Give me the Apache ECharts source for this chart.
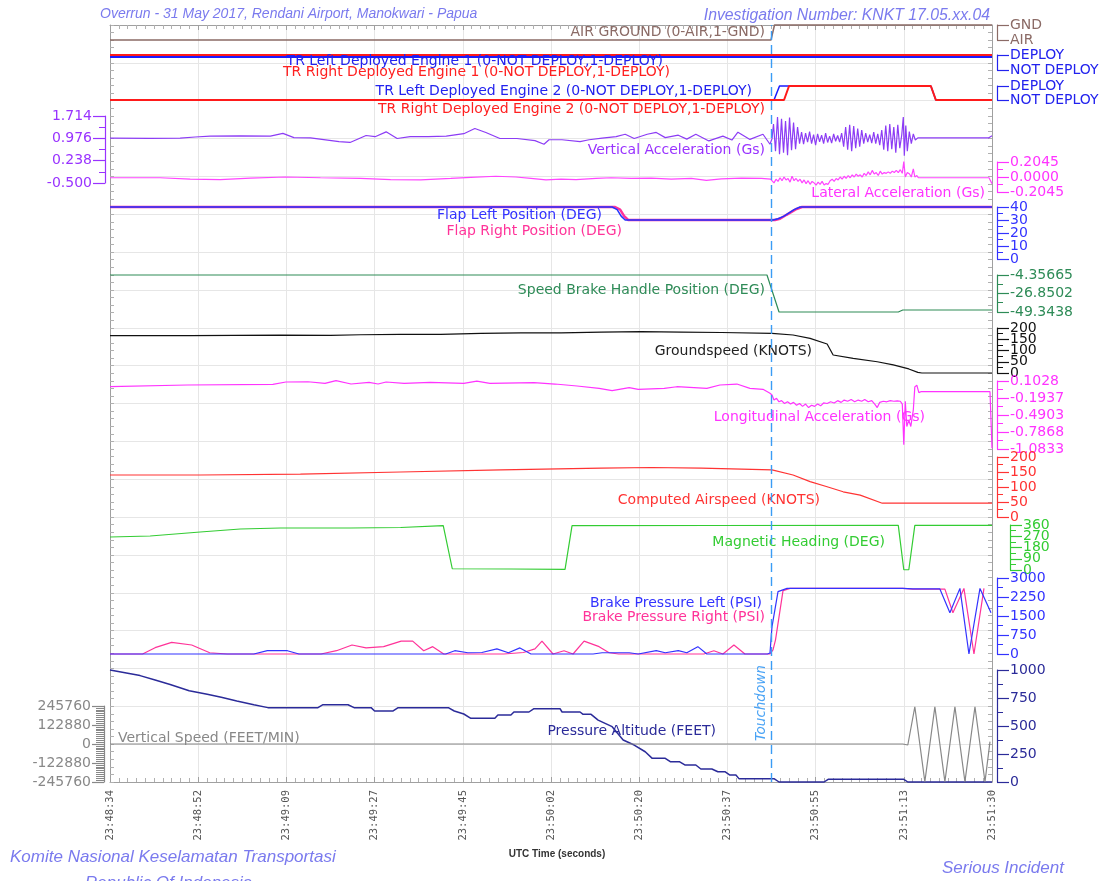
<!DOCTYPE html>
<html>
<head>
<meta charset="utf-8">
<script src="https://cdn.jsdelivr.net/npm/echarts@6/dist/echarts.min.js"></script>
<style>
html,body{margin:0;padding:0;background:#fff;}
#chart{width:1108px;height:881px;}
</style>
</head>
<body>
<div id="chart"></div>
<script>
// ---------------- DATA ----------------
const X_TICK_LABELS = ['23:48:34','23:48:52','23:49:09','23:49:27','23:49:45','23:50:02','23:50:20','23:50:37','23:50:55','23:51:13','23:51:30'];
const X_SPAN = 176;          // seconds shown
const X_TICK_STEP = 17.6;    // seconds between labelled ticks
const TOUCHDOWN_T = 131.9;   // seconds after 23:48:34

const AG_TICKS = [0, 1];            const AG_LABELS = ['AIR', 'GND'];
const TR_TICKS = [0, 1];            const TR_LABELS = ['NOT DEPLOY', 'DEPLOY'];
const VA_TICKS = [-0.5, 0.238, 0.976, 1.714];   const VA_LABELS = ['-0.500', '0.238', '0.976', '1.714'];
const LAT_TICKS = [-0.2045, 0, 0.2045];         const LAT_LABELS = ['-0.2045', '0.0000', '0.2045'];
const FLAP_TICKS = [0, 10, 20, 30, 40];         const FLAP_LABELS = ['0', '10', '20', '30', '40'];
const SB_TICKS = [-49.3438, -26.8502, -4.35665]; const SB_LABELS = ['-49.3438', '-26.8502', '-4.35665'];
const GS_TICKS = [0, 50, 100, 150, 200];        const GS_LABELS = ['0', '50', '100', '150', '200'];
const LON_TICKS = [-1.0833, -0.7868, -0.4903, -0.1937, 0.1028];
const LON_LABELS = ['-1.0833', '-0.7868', '-0.4903', '-0.1937', '0.1028'];
const CAS_TICKS = [0, 50, 100, 150, 200];       const CAS_LABELS = ['0', '50', '100', '150', '200'];
const HDG_TICKS = [0, 90, 180, 270, 360];       const HDG_LABELS = ['0', '90', '180', '270', '360'];
const BRK_TICKS = [0, 750, 1500, 2250, 3000];   const BRK_LABELS = ['0', '750', '1500', '2250', '3000'];
const ALT_TICKS = [0, 250, 500, 750, 1000];     const ALT_LABELS = ['0', '250', '500', '750', '1000'];
const VS_TICKS = [-245760, -122880, 0, 122880, 245760];
const VS_LABELS = ['-245760', '-122880', '0', '122880', '245760'];

// [seconds, value]
const airGround = [[0,0],[131.9,0],[132.6,1],[176,1]];
const trLeftEng1 = [[0,1],[176,1]];
const trRightEng1 = [[0,1],[176,1]];
const trLeftEng2 = [[0,0],[132.5,0],[133.6,1],[163.8,1],[164.8,0],[176,0]];
const trRightEng2 = [[0,0],[134.5,0],[135.5,1],[163.8,1],[164.8,0],[176,0]];

const vertAccel = [[0,0.98],[8,0.975],[14,0.985],[17,1.02],[20,1.05],[26,1.06],[32,1.05],[34.5,1.14],[36.7,1.0],[40,0.99],[45.7,0.87],[47.9,0.84],[51.1,1.07],[52.9,1.03],[55.1,1.19],[57.3,0.97],[59.9,1.03],[63.5,1.03],[67.1,1.05],[70.6,1.13],[72.8,1.3],[75,1.17],[77.8,0.97],[81.2,0.97],[84.8,0.9],[86.6,0.78],[87.6,0.93],[90.2,0.93],[93.8,0.87],[95.6,0.93],[98.2,0.98],[101,1.03],[102.8,1.11],[104.6,0.97],[107.2,1.11],[109,1.17],[110.8,1.0],[113.4,1.08],[115.1,0.95],[116.9,1.11],[119.5,0.89],[122.3,1.05],[124.1,0.92],[125.3,1.18],[127.7,0.94],[130.3,1.11],[131.7,0.78],
  [132.1,0.96],[132.4,1.45],[132.8,0.55],[133.2,1.68],[133.6,0.45],[134.0,1.62],[134.4,0.5],[134.8,1.55],[135.2,0.42],[135.6,1.66],[136.0,0.58],[136.4,1.5],[136.8,0.62],[137.2,1.35],[137.6,0.8],[138.0,1.18],[138.4,0.78],[138.8,1.15],[139.2,0.85],[139.6,1.2],[140.0,0.8],[140.4,1.1],[140.8,0.75],[141.2,1.12],[141.6,0.86],[142.0,1.08],[142.4,0.8],[142.8,1.15],[143.2,0.84],[143.6,1.05],[144.0,0.82],[144.4,1.12],[144.8,0.88],[145.2,1.07],[145.6,0.85],[146.0,1.15],[146.4,0.7],[146.8,1.35],[147.2,0.6],[147.6,1.42],[148.0,0.55],[148.4,1.38],[148.8,0.65],[149.2,1.3],[149.6,0.7],[150.0,1.25],[150.4,0.8],[150.8,1.15],[151.2,0.85],[151.6,1.1],[152.0,0.82],[152.4,1.18],[152.8,0.8],[153.2,1.12],[153.6,0.75],[154.0,1.25],[154.4,0.6],[154.8,1.4],[155.2,0.55],[155.6,1.45],[156.0,0.62],[156.4,1.35],[156.8,0.5],[157.2,1.42],[157.6,0.65],[158.0,1.1],[158.3,1.68],[158.5,0.4],[158.8,1.4],[159.1,0.55],[159.5,1.2],[159.9,0.8],[160.3,1.12],[160.7,0.92],[161.2,0.99],[175.3,0.99],[176,1.06]];

const latAccel = [[0,-0.01],[10,-0.01],[16,-0.03],[22,-0.035],[28,-0.015],[35,0.0],[42,-0.01],[50,-0.02],[56,-0.035],[62,-0.04],[68,-0.02],[72,-0.005],[77,0.01],[81,0.0],[84,-0.02],[87,-0.04],[90,-0.03],[93,-0.035],[97,-0.02],[100,-0.01],[104,-0.02],[108,-0.015],[112,-0.03],[116,-0.02],[119,-0.045],[122,-0.025],[126,-0.015],[130,-0.02],[131.8,-0.03],
  [132.1,-0.02],[132.5,-0.08],[132.9,-0.03],[133.3,-0.06],[133.7,-0.01],[134.1,-0.05],[134.5,0.0],[134.9,-0.04],[135.3,-0.02],[135.7,-0.07],[136.1,0.01],[136.5,-0.05],[136.9,-0.02],[137.3,-0.06],[137.7,-0.03],[138.1,-0.08],[138.5,-0.04],[138.9,-0.09],[139.3,-0.05],[139.7,-0.1],[140.1,-0.06],[140.5,-0.08],[140.9,-0.11],[141.3,-0.07],[141.7,-0.1],[142.1,-0.06],[142.5,-0.11],[142.9,-0.09],[143.3,-0.1],[143.7,-0.05],[144.1,-0.03],[144.5,-0.06],[144.9,-0.02],[145.3,-0.04],[145.7,0.0],[146.1,-0.03],[146.5,0.01],[146.9,-0.02],[147.3,0.02],[147.7,-0.01],[148.1,0.03],[148.5,0.0],[148.9,0.04],[149.3,0.01],[149.7,0.03],[150.1,0.0],[150.5,0.05],[150.9,0.02],[151.3,0.07],[151.7,0.03],[152.1,0.09],[152.5,0.04],[152.9,0.06],[153.3,0.02],[153.7,0.08],[154.1,0.04],[154.5,0.06],[154.9,0.05],[155.3,0.07],[155.7,0.05],[156.1,0.08],[156.5,0.06],[156.9,0.09],[157.3,0.06],[157.7,0.1],[158.1,0.05],[158.4,0.21],[158.7,0.0],[159.1,0.06],[159.5,0.045],[159.9,0.0],[160.3,0.11],[160.6,0.0],[161.0,0.02],[161.3,-0.01],[175.4,-0.01],[176,-0.09]];

const flapLeft = [[0,40],[100.2,40],[101.2,38],[102.0,33],[102.8,30],[132.3,30],[133.3,31],[134.5,33],[136.5,38],[137.7,40],[176,40]];
const flapRight = [[0,40],[100.8,40],[101.8,38],[102.6,33],[103.4,30],[132.7,30],[133.7,31],[135.0,34],[137.0,38.5],[138.1,40],[176,40]];

const speedBrake = [[0,-4.35665],[131.1,-4.35665],[133.5,-49.3438],[157.3,-49.3438],[158.2,-46.9],[176,-46.9]];

const groundSpeed = [[0,166],[16,166],[34,168],[44,167],[50,170],[58,172],[66,172],[74,176],[82,178],[90,178],[98,182],[106,184],[114,182],[122,180],[132.1,176],[136.3,169],[139.7,154],[143.1,129],[144.3,80],[148.3,65],[153.1,50],[156.3,36],[159.4,18],[161.2,3],[162,0],[176,0]];

const longAccel = [[0,0.003],[15.4,0.033],[32.5,0.045],[35.1,0.085],[39.5,0.09],[42.9,0.062],[45.1,0.108],[48.1,0.05],[51.7,0.08],[53.5,0.05],[55.1,0.085],[58.7,0.062],[63.9,0.08],[70.6,0.062],[73.2,0.1],[75.8,0.062],[84.6,0.074],[88.8,0.05],[93.2,0.016],[97.6,-0.025],[100.2,-0.066],[103.6,-0.014],[105.4,-0.042],[110.6,-0.025],[113.1,0.003],[119.1,-0.025],[121.7,0.033],[125.1,0.05],[127.7,-0.025],[130.3,-0.042],[131.7,-0.112],
  [132.1,-0.141],[132.5,-0.23],[133.0,-0.2],[133.5,-0.26],[134.0,-0.24],[134.6,-0.29],[135.2,-0.26],[135.8,-0.3],[136.4,-0.27],[137.0,-0.32],[137.6,-0.29],[138.2,-0.34],[138.8,-0.3],[139.4,-0.36],[140.0,-0.32],[140.6,-0.34],[141.2,-0.3],[141.8,-0.33],[142.4,-0.28],[143.1,-0.29],[143.8,-0.26],[144.5,-0.28],[145.2,-0.24],[145.9,-0.27],[146.5,-0.23],[147.2,-0.25],[147.9,-0.22],[148.6,-0.26],[149.3,-0.23],[150.0,-0.25],[150.6,-0.22],[151.3,-0.26],[152.0,-0.24],[152.6,-0.3],[153.1,-0.36],[153.6,-0.27],[154.3,-0.25],[155.0,-0.26],[155.7,-0.24],[156.4,-0.25],[157.1,-0.245],[157.7,-0.25],[158.1,-0.3],[158.4,-1.01],[158.7,-0.25],[159.0,-0.69],[159.4,-0.58],[159.8,-0.69],[160.3,-0.4],[160.6,0.0],[161.0,0.03],[161.4,-0.1],[161.8,-0.084],[175.6,-0.084],[176,-1.07]];

const airspeed = [[0,140],[18,140],[38,143],[58,150],[78,157],[98,163],[108,165],[118,163],[132.1,157],[136.3,140],[139.7,118],[143.1,101],[146.3,84],[149.7,73],[154.1,46],[176,46]];

const heading = [[0,264],[8,272],[18,304],[26,328],[34,336],[48,336],[58,340],[66.5,355],[68.3,10],[80,8],[90.8,5],[92.2,355],[120,356],[157.3,357],[158.4,2],[159.4,2],[160.6,357],[176,357]];

const brakeLeft = [[0,0],[28.7,0],[31.4,130],[35.4,130],[37.7,0],[67,0],[68.8,130],[71.4,50],[74.2,60],[77.2,200],[79.5,50],[81.8,240],[84,0],[96.4,0],[98.2,50],[103.6,50],[105.4,0],[109,130],[110.8,50],[113.4,130],[115.1,50],[117.3,290],[119.1,0],[131.2,0],[131.7,40],[132.1,1080],[133.3,2460],[135.1,2590],[158.2,2590],[160.2,2570],[165.6,2570],[167.6,1630],[169.6,2590],[171.4,0],[173.6,2590],[175.8,1630]];
const brakeRight = [[0,0],[6.5,0],[9,250],[12.3,460],[16.3,355],[19.9,50],[23.4,0],[42.1,0],[45.2,130],[48.3,355],[51.1,240],[54.6,290],[58.1,510],[60.4,510],[62.6,130],[64.4,290],[66.6,0],[78.6,0],[82.5,60],[84.8,200],[86.2,510],[88.4,0],[90.6,130],[92.4,0],[94.6,510],[97.6,290],[99.6,50],[101.5,0],[118.5,0],[120.5,130],[122.3,0],[124.5,355],[126.7,0],[131.7,0],[132.3,160],[132.8,560],[134.3,2500],[135.7,2590],[158.2,2590],[160.2,2560],[166.6,2560],[168.2,1630],[170.4,2590],[172.4,0],[174.4,2590]];

const pressAlt = [[0,1000],[3,975],[6,950],[9,910],[12,870],[15.8,815],[19.4,783],[22.2,756],[25.3,723],[28.7,690],[31.5,664],[41.5,664],[42.5,690],[47.5,690],[48.7,664],[52.1,664],[52.8,634],[56.5,634],[57.5,664],[67.5,664],[68.7,634],[70.6,607],[72,569],[76.8,569],[77.4,598],[80,598],[80.6,625],[83.6,625],[84.6,655],[89.8,655],[90.2,625],[93.8,625],[94.4,604],[96,604],[97.4,553],[100.2,494],[102.4,375],[104.6,330],[106.8,270],[108.2,211],[110.8,211],[111.8,181],[113.6,181],[114.7,152],[116.9,152],[117.9,116],[120.1,116],[121.3,92],[122.7,92],[123.7,62],[124.9,62],[125.5,30],[132.5,30],[133.5,0],[142.5,0],[143.3,24],[158.4,24],[159.2,0],[176,0]];

const vertSpeed = [[0,0],[158.2,0],[159.2,-6500],[160.6,241000],[162.6,-244000],[164.6,241000],[166.6,-244000],[168.6,241000],[170.6,-244000],[172.6,241000],[174.6,-244000],[175.6,15000]];

// ---------------- LAYOUT / STYLE ----------------
const PLOT_LEFT = 110, PLOT_RIGHT_GAP = 116, PLOT_TOP = 25, PLOT_BOTTOM = 782;
const FONT = "'DejaVu Sans', Verdana, sans-serif";
const LABEL_FONT_SIZE = 14;

const PANELS = [
  {id:'ag',   top:25,  bottom:40,  side:'right', offset:5,  color:'#8b6b66', ticks:AG_TICKS,   labels:AG_LABELS,   div:1},
  {id:'tr1',  top:55,  bottom:70,  side:'right', offset:5,  color:'#2222ee', ticks:TR_TICKS,   labels:TR_LABELS,   div:1},
  {id:'tr2',  top:86,  bottom:100, side:'right', offset:5,  color:'#2222ee', ticks:TR_TICKS,   labels:TR_LABELS,   div:1},
  {id:'va',   top:116, bottom:183, side:'left',  offset:5,  color:'#9933ff', ticks:VA_TICKS,   labels:VA_LABELS,   div:2},
  {id:'lat',  top:162, bottom:192, side:'right', offset:5,  color:'#ff33ff', ticks:LAT_TICKS,  labels:LAT_LABELS,  div:2},
  {id:'flap', top:207, bottom:259, side:'right', offset:5,  color:'#3333ff', ticks:FLAP_TICKS, labels:FLAP_LABELS, div:2},
  {id:'sb',   top:275, bottom:312, side:'right', offset:5,  color:'#2e8b57', ticks:SB_TICKS,   labels:SB_LABELS,   div:2},
  {id:'gs',   top:328, bottom:373, side:'right', offset:5,  color:'#111111', ticks:GS_TICKS,   labels:GS_LABELS,   div:2},
  {id:'lon',  top:381, bottom:449, side:'right', offset:5,  color:'#ff33ff', ticks:LON_TICKS,  labels:LON_LABELS,  div:2},
  {id:'cas',  top:457, bottom:517, side:'right', offset:5,  color:'#ff3333', ticks:CAS_TICKS,  labels:CAS_LABELS,  div:2},
  {id:'hdg',  top:525, bottom:570, side:'right', offset:18, color:'#33cc33', ticks:HDG_TICKS,  labels:HDG_LABELS,  div:2},
  {id:'brk',  top:578, bottom:654, side:'right', offset:5,  color:'#3333ff', ticks:BRK_TICKS,  labels:BRK_LABELS,  div:2},
  {id:'alt',  top:670, bottom:782, side:'right', offset:5,  color:'#2b2b99', ticks:ALT_TICKS,  labels:ALT_LABELS,  div:2},
  {id:'vs',   top:706, bottom:782, side:'left',  offset:6,  color:'#888888', ticks:VS_TICKS,   labels:VS_LABELS,   div:10}
];

const SERIES = [
  {panel:'ag',   data:airGround,   color:'#8b6b66', width:1.5},
  {panel:'tr1',  data:trLeftEng1,  color:'#1a1aff', width:2, shadowY:2},
  {panel:'tr1',  data:trRightEng1, color:'#ff1a1a', width:2},
  {panel:'tr2',  data:trLeftEng2,  color:'#1a1aff', width:1.5},
  {panel:'tr2',  data:trRightEng2, color:'#ff1a1a', width:2},
  {panel:'va',   data:vertAccel,   color:'#8c3cf5', width:1.2},
  {panel:'lat',  data:latAccel,    color:'#ff44ff', width:1.2},
  {panel:'flap', data:flapRight,   color:'#ff3399', width:2.5},
  {panel:'flap', data:flapLeft,    color:'#2233ff', width:1.5},
  {panel:'sb',   data:speedBrake,  color:'#2e8b57', width:1.2},
  {panel:'gs',   data:groundSpeed, color:'#111111', width:1.2},
  {panel:'lon',  data:longAccel,   color:'#ff33ff', width:1.2},
  {panel:'cas',  data:airspeed,    color:'#ff3333', width:1.2},
  {panel:'hdg',  data:heading,     color:'#33cc33', width:1.2},
  {panel:'brk',  data:brakeRight,  color:'#ff3399', width:1.2},
  {panel:'brk',  data:brakeLeft,   color:'#3333ff', width:1.2},
  {panel:'alt',  data:pressAlt,    color:'#2b2b99', width:1.5},
  {panel:'vs',   data:vertSpeed,   color:'#888888', width:1.2}
];

// series name labels: [text, x, y, color, align]
const NAME_LABELS = [
  ['AIR GROUND (0-AIR,1-GND)', 765, 32, '#8b6b66', 'right'],
  ['TR Left Deployed Engine 1 (0-NOT DEPLOY,1-DEPLOY)', 663, 61, '#2222ee', 'right'],
  ['TR Right Deployed Engine 1 (0-NOT DEPLOY,1-DEPLOY)', 670, 72, '#ff2020', 'right'],
  ['TR Left Deployed Engine 2 (0-NOT DEPLOY,1-DEPLOY)', 752, 91, '#2222ee', 'right'],
  ['TR Right Deployed Engine 2 (0-NOT DEPLOY,1-DEPLOY)', 765, 109, '#ff2020', 'right'],
  ['Vertical Acceleration (Gs)', 765, 150, '#9933ff', 'right'],
  ['Lateral Acceleration (Gs)', 985, 193, '#ff33ff', 'right'],
  ['Flap Left Position (DEG)', 602, 215, '#3333ff', 'right'],
  ['Flap Right Position (DEG)', 622, 231, '#ff3399', 'right'],
  ['Speed Brake Handle Position (DEG)', 765, 290, '#2e8b57', 'right'],
  ['Groundspeed (KNOTS)', 812, 351, '#222222', 'right'],
  ['Longitudinal Acceleration (Gs)', 925, 417, '#ff33ff', 'right'],
  ['Computed Airspeed (KNOTS)', 820, 500, '#ff3333', 'right'],
  ['Magnetic Heading (DEG)', 885, 542, '#33cc33', 'right'],
  ['Brake Pressure Left (PSI)', 762, 603, '#3333ff', 'right'],
  ['Brake Pressure Right (PSI)', 765, 617, '#ff3399', 'right'],
  ['Pressure Altitude (FEET)', 716, 731, '#2b2b99', 'right'],
  ['Vertical Speed (FEET/MIN)', 118, 738, '#888888', 'left']
];

// ---------------- BUILD OPTION ----------------
const grids = [], xAxes = [], yAxes = [], series = [];
const panelIndex = {};
const FRAME = '#a0a0a0';

grids.push({left:PLOT_LEFT, right:PLOT_RIGHT_GAP, top:PLOT_TOP, height:PLOT_BOTTOM-PLOT_TOP});
xAxes.push({
  type:'value', gridIndex:0, min:0, max:X_SPAN, interval:X_TICK_STEP, position:'bottom',
  axisLine:{show:true, onZero:false, lineStyle:{color:FRAME}},
  axisTick:{show:true, inside:true, length:5, lineStyle:{color:FRAME}},
  minorTick:{show:true, splitNumber:10, length:4, lineStyle:{color:'#b0b0b0'}},
  splitLine:{show:true, lineStyle:{color:'#e6e6e6'}},
  axisLabel:{rotate:90, margin:8, color:'#555', fontSize:10.5, fontFamily:"'DejaVu Sans Mono', monospace",
    showMinLabel:true, showMaxLabel:true,
    formatter:(v)=>X_TICK_LABELS[Math.round(v/X_TICK_STEP)] || ''}
});
xAxes.push({
  type:'value', gridIndex:0, min:0, max:X_SPAN, interval:X_TICK_STEP, position:'top',
  axisLine:{show:true, onZero:false, lineStyle:{color:FRAME}},
  axisTick:{show:true, inside:true, length:5, lineStyle:{color:FRAME}},
  minorTick:{show:true, splitNumber:10, length:4, lineStyle:{color:'#b0b0b0'}},
  splitLine:{show:false}, axisLabel:{show:false}
});
['left','right'].forEach((pos,i)=>{
  yAxes.push({
    type:'value', gridIndex:0, min:0, max:20, interval:1, position:pos,
    axisLine:{show:true, onZero:false, lineStyle:{color:FRAME}},
    axisTick:{show:true, inside:true, length:4, lineStyle:{color:'#b0b0b0'}},
    minorTick:{show:true, splitNumber:5, length:4, lineStyle:{color:'#b0b0b0'}},
    splitLine:{show:i===0, lineStyle:{color:'#e6e6e6'}},
    axisLabel:{show:false}
  });
});
series.push({
  type:'line', xAxisIndex:0, yAxisIndex:0, data:[], silent:true, animation:false,
  markLine:{silent:true, symbol:['none','none'], label:{show:false}, animation:false,
    lineStyle:{color:'#3a9cf5', type:[9,5], width:1.4},
    data:[{xAxis:TOUCHDOWN_T}]}
});

PANELS.forEach((p, i)=>{
  const gi = i + 1;
  grids.push({left:PLOT_LEFT, right:PLOT_RIGHT_GAP, top:p.top, height:p.bottom-p.top});
  const xi = xAxes.length;
  xAxes.push({type:'value', gridIndex:gi, min:0, max:X_SPAN, show:false, axisLine:{onZero:false}});
  const min = p.ticks[0], max = p.ticks[p.ticks.length-1];
  const tol = (max-min)*1e-6;
  const minor = [];
  for (let k=0; k<p.ticks.length-1; k++){
    for (let j=1; j<p.div; j++) minor.push(p.ticks[k] + (p.ticks[k+1]-p.ticks[k])*j/p.div);
  }
  const fmt = (v)=>{ const idx = p.ticks.findIndex(t=>Math.abs(t-v)<=tol); return idx>=0 ? p.labels[idx] : ''; };
  const base = {type:'value', gridIndex:gi, min:min, max:max, position:p.side, offset:p.offset, splitLine:{show:false}};
  // axis line + major ticks (no labels)
  panelIndex[p.id] = {x:xi, y:yAxes.length};
  yAxes.push(Object.assign({}, base, {
    axisLine:{show:true, onZero:false, lineStyle:{color:p.color, width:1.2}},
    axisTick:{show:true, length:12, customValues:p.ticks, lineStyle:{color:p.color, width:1.2}},
    axisLabel:{show:false}
  }));
  // labels split into two axes (alternating) so none are dropped for overlap
  [0,1].forEach(par=>{
    const vals = p.ticks.filter((t,k)=>k%2===par);
    if (!vals.length) return;
    yAxes.push(Object.assign({}, base, {
      axisLine:{show:false, onZero:false}, axisTick:{show:false},
      axisLabel:{show:true, interval:0, customValues:vals, margin:13, color:p.color, fontSize:LABEL_FONT_SIZE,
        fontFamily:FONT, lineHeight:10, showMinLabel:true, showMaxLabel:true, hideOverlap:false, formatter:fmt}
    }));
  });
  // minor ticks
  if (minor.length) {
    yAxes.push(Object.assign({}, base, {
      axisLine:{show:false, onZero:false},
      axisTick:{show:true, length:p.div>2?8:6, customValues:minor, lineStyle:{color:p.color, width:1}},
      axisLabel:{show:false}
    }));
  }
});

SERIES.forEach(s=>{
  const pi = panelIndex[s.panel];
  const ls = {color:s.color, width:s.width};
  if (s.shadowY) { ls.shadowColor = s.color; ls.shadowOffsetY = s.shadowY; ls.shadowBlur = 0; }
  series.push({
    type:'line', xAxisIndex:pi.x, yAxisIndex:pi.y, data:s.data, showSymbol:false, symbol:'none',
    clip:false, animation:false, silent:true, lineStyle:ls, itemStyle:{color:s.color}
  });
});

const graphics = [];
NAME_LABELS.forEach(([text,x,y,color,align])=>{
  graphics.push({type:'text', x:x, y:y, silent:true, z:5,
    style:{text:text, fill:color, font:LABEL_FONT_SIZE+"px "+FONT, align:align, verticalAlign:'middle'}});
});
graphics.push({type:'text', x:768, y:741, rotation:Math.PI/2, silent:true, z:5,
  style:{text:'Touchdown', fill:'#4aa3f5', font:"italic 13.5px "+FONT, align:'left', verticalAlign:'bottom'}});
const HEAD_COLOR = '#7a7aee';
const HEAD_FONT = "'Liberation Sans', Arial, sans-serif";
graphics.push({type:'text', x:100, y:14, silent:true,
  style:{text:'Overrun - 31 May 2017, Rendani Airport, Manokwari - Papua', fill:HEAD_COLOR, font:"italic 14px "+HEAD_FONT, align:'left', verticalAlign:'middle'}});
graphics.push({type:'text', x:990, y:16, silent:true,
  style:{text:'Investigation Number: KNKT 17.05.xx.04', fill:HEAD_COLOR, font:"italic 15.8px "+HEAD_FONT, align:'right', verticalAlign:'middle'}});
graphics.push({type:'text', x:10, y:857, silent:true,
  style:{text:'Komite Nasional Keselamatan Transportasi', fill:HEAD_COLOR, font:"italic 17px "+HEAD_FONT, align:'left', verticalAlign:'middle'}});
graphics.push({type:'text', x:85, y:875, silent:true,
  style:{text:'Republic Of Indonesia', fill:HEAD_COLOR, font:"italic 17px "+HEAD_FONT, align:'left', verticalAlign:'top'}});
graphics.push({type:'text', x:942, y:868, silent:true,
  style:{text:'Serious Incident', fill:HEAD_COLOR, font:"italic 17px "+HEAD_FONT, align:'left', verticalAlign:'middle'}});
graphics.push({type:'text', x:557, y:854, silent:true,
  style:{text:'UTC Time (seconds)', fill:'#333333', font:"bold 10px "+HEAD_FONT, align:'center', verticalAlign:'middle'}});

const chart = echarts.init(document.getElementById('chart'), null, {renderer:'canvas'});
chart.setOption({
  animation:false,
  backgroundColor:'#ffffff',
  grid:grids, xAxis:xAxes, yAxis:yAxes, series:series,
  graphic:graphics
});
</script>
</body>
</html>
